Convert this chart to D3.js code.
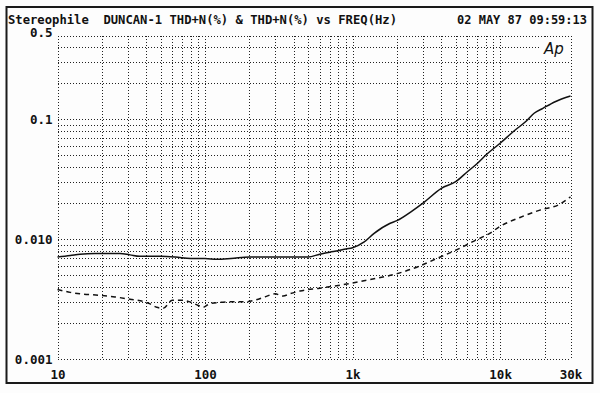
<!DOCTYPE html>
<html><head><meta charset="utf-8">
<script src="https://cdn.jsdelivr.net/npm/d3@7"></script>
<style>
body{margin:0;background:#fff;}
text{font-family:"DejaVu Sans Mono",monospace;font-weight:bold;fill:#111;white-space:pre;}
</style></head>
<body><svg id="c" width="600" height="393"></svg>
<script>
// ---- data ----
const titleLeft = "Stereophile  DUNCAN-1 THD+N(%) & THD+N(%) vs FREQ(Hz)";
const titleRight = "02 MAY 87 09:59:13";
const freqTicks = [10, 100, 1000, 10000, 30000];
const freqTickLabels = ["10", "100", "1k", "10k", "30k"];
const levelTicks = [0.001, 0.01, 0.1, 0.5];
const levelTickLabels = ["0.001", "0.010", "0.1", "0.5"];

const solidFreq = [10, 12.2, 14.2, 18, 26.5, 31, 36, 50, 63, 80, 100, 120, 150, 200, 340, 500, 600, 700, 800, 900, 1000, 1200, 1400, 1800, 2000, 2500, 3000, 4000, 5000, 6000, 7000, 8000, 10000, 12650, 15000, 17000, 19500, 23600, 30000];
const solidTHD  = [0.0071, 0.0073, 0.0075, 0.0076, 0.0076, 0.0074, 0.0072, 0.0072, 0.0071, 0.0069, 0.0069, 0.0068, 0.0069, 0.0071, 0.0071, 0.0071, 0.0075, 0.0078, 0.0080, 0.0083, 0.0085, 0.0095, 0.0112, 0.0136, 0.0143, 0.0170, 0.0200, 0.0266, 0.0302, 0.0366, 0.0429, 0.0504, 0.0632, 0.0816, 0.0965, 0.1126, 0.1238, 0.1406, 0.157];

const dashFreq = [10, 12.2, 14.2, 19.4, 24.5, 31, 39, 42, 47, 52, 60, 68, 79, 90, 97, 108, 148, 187, 218, 255, 298, 338, 375, 441, 600, 890, 1300, 1940, 2870, 3620, 5330, 6700, 8500, 10000, 13650, 18600, 25400, 30000];
const dashTHD  = [0.0038, 0.0036, 0.0035, 0.0034, 0.0033, 0.00315, 0.0030, 0.0029, 0.0027, 0.00265, 0.0031, 0.0031, 0.0030, 0.0028, 0.0027, 0.0029, 0.0030, 0.0030, 0.0031, 0.0033, 0.0035, 0.00335, 0.0035, 0.0037, 0.0039, 0.0042, 0.0046, 0.0051, 0.0060, 0.0068, 0.0084, 0.0097, 0.0112, 0.0128, 0.0152, 0.0175, 0.0196, 0.0226];

// ---- chart ----
const svg = d3.select("#c");
const L = 57.5, R = 570.5, T = 35.7, B = 359;
const x = d3.scaleLog().domain([10, 30000]).range([L, R]);
const y = d3.scaleLog().domain([0.001, 0.5]).range([B, T]);

svg.append("rect").attr("x",0).attr("y",0).attr("width",600).attr("height",393).attr("fill","#fdfdfd");
// outer frame
svg.append("rect").attr("x",6.5).attr("y",7).attr("width",586).attr("height",376)
  .attr("fill","none").attr("stroke","#1a1a1a").attr("stroke-width",2);

// grid values
const vGrid = [];
[10, 100, 1000].forEach(d => { for (let k = 1; k <= 9; k++) vGrid.push(d * k); });
vGrid.push(10000, 20000, 30000);
const hGrid = [];
[0.001, 0.01].forEach(d => { for (let k = 1; k <= 9; k++) hGrid.push(d * k); });
hGrid.push(0.1, 0.2, 0.3, 0.4, 0.5);

const grid = svg.append("g").attr("stroke","#222").attr("stroke-width",1).attr("stroke-dasharray","1,2").attr("shape-rendering","crispEdges");
grid.selectAll("line.v").data(vGrid).enter().append("line")
  .attr("x1", d => Math.round(x(d)) + 0.5).attr("x2", d => Math.round(x(d)) + 0.5)
  .attr("y1", T).attr("y2", B);
grid.selectAll("line.h").data(hGrid).enter().append("line")
  .attr("y1", d => Math.round(y(d)) + 0.5).attr("y2", d => Math.round(y(d)) + 0.5)
  .attr("x1", L).attr("x2", R);

// Ap logo box
svg.append("rect").attr("x",539).attr("y",37).attr("width",30).attr("height",21).attr("fill","#fdfdfd");
svg.append("text").attr("x",554).attr("y",54).attr("text-anchor","middle")
  .style("font-family","DejaVu Sans").style("font-style","italic").style("font-weight","normal")
  .style("font-size","15px").text("Ap");

// lines
const line = d3.line().x(d => x(d[0])).y(d => y(d[1])).curve(d3.curveMonotoneX);
svg.append("path").datum(solidFreq.map((f,i)=>[f, solidTHD[i]]))
  .attr("d", line).attr("fill","none").attr("stroke","#111").attr("stroke-width",1.5);
svg.append("path").datum(dashFreq.map((f,i)=>[f, dashTHD[i]]))
  .attr("d", line).attr("fill","none").attr("stroke","#111").attr("stroke-width",1.5)
  .attr("stroke-dasharray","5,4");

// axes
const yAxis = d3.axisLeft(y).tickValues(levelTicks).tickFormat((d,i)=>levelTickLabels[i]).tickSize(0).tickPadding(5);
const gy = svg.append("g").attr("transform",`translate(${L},0)`).call(yAxis);
gy.select(".domain").remove();
gy.selectAll("text").style("font-size","12.5px").attr("fill","#111")
  .attr("dy", (d) => d === 0.5 ? "0.1em" : "0.32em");

const xAxis = d3.axisBottom(x).tickValues(freqTicks).tickFormat((d,i)=>freqTickLabels[i]).tickSize(0).tickPadding(11);
const gx = svg.append("g").attr("transform",`translate(0,${B})`).call(xAxis);
gx.select(".domain").remove();
gx.selectAll("text").style("font-size","12.5px").attr("fill","#111");
svg.selectAll(".tick text").style("font-family","'DejaVu Sans Mono',monospace").style("font-weight","bold");

// title
svg.append("text").attr("x",8).attr("y",24).style("font-size","12.5px")
  .attr("textLength",389).attr("lengthAdjust","spacingAndGlyphs").text(titleLeft);
svg.append("text").attr("x",587).attr("y",24).attr("text-anchor","end").style("font-size","12.5px")
  .attr("textLength",130).attr("lengthAdjust","spacingAndGlyphs").text(titleRight);
</script></body></html>
